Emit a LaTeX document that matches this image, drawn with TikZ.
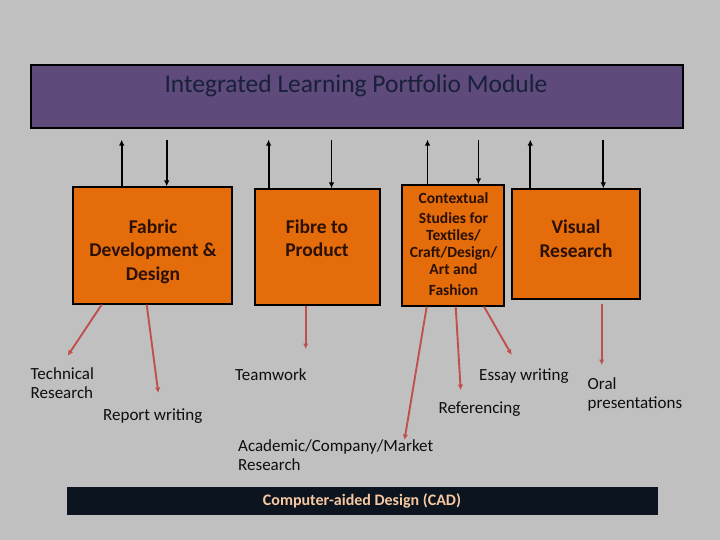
\documentclass[tikz,border=0pt]{standalone}
\usepackage{fontspec}
\setmainfont{Carlito}
\usetikzlibrary{arrows.meta,calc}
\definecolor{bg}{HTML}{C0C0C0}
\definecolor{purpc}{HTML}{5E4A7B}
\definecolor{titlec}{HTML}{18203A}
\definecolor{orng}{HTML}{E46C0A}
\definecolor{boxtxt}{HTML}{2A1006}
\definecolor{redar}{HTML}{C0504D}
\definecolor{barc}{HTML}{0C1420}
\definecolor{cadtxt}{HTML}{F7C9A0}
\definecolor{lbl}{HTML}{0E0E0E}
\begin{document}
\begin{tikzpicture}[x=1pt,y=-1pt,
  panel/.style={draw=black, line width=1.2pt, fill=orng, inner sep=0pt},
  boxtext/.style={font=\fontsize{19.5}{23.5}\selectfont\bfseries, text=boxtxt, align=center, anchor=base, inner sep=0pt},
  smalltext/.style={font=\fontsize{15.5}{16.8}\selectfont\bfseries, text=boxtxt, align=center, anchor=base, inner sep=0pt},
  lbltext/.style={font=\fontsize{17}{19}\selectfont, text=lbl, align=left, anchor=base west, inner sep=0pt},
  blk/.style={draw=black, line width=1.8pt, -{Latex[length=6pt,width=5.5pt]}},
  redarrow/.style={draw=redar, line width=1.9pt, -{Latex[length=5.5pt,width=5.5pt]}}
]
\useasboundingbox[fill=bg] (0,0) rectangle (720,540);

% top module
\node[draw=black, line width=1.2pt, fill=purpc, minimum width=652pt, minimum height=63pt, inner sep=0pt] (purp) at (357,96.5) {};
\node[font=\fontsize{25.5}{28}\selectfont, text=titlec, anchor=base, inner sep=0pt] (title) at (356,92.3) {Integrated Learning Portfolio Module};

% orange boxes
\node[panel, minimum width=159pt, minimum height=117pt] (fab) at (152.5,245.5) {};
\node[panel, minimum width=125pt, minimum height=116pt] (fib) at (317.5,247) {};
\node[panel, minimum width=102pt, minimum height=121pt] (ctx) at (453,245.5) {};
\node[panel, minimum width=128pt, minimum height=110pt] (vis) at (576,244) {};

\node[boxtext] (fabt) at (153,280) {Fabric\\Development \&\\Design};
\node[boxtext] (fibt) at (317,256.7) {Fibre to\\Product};
\node[boxtext] (vist) at (576,257.3) {Visual\\Research};
\node[smalltext] (ctxt) at (453.5,295) {Contextual\\[3.2pt]Studies for\\Textiles/\\Craft/Design/\\Art and\\[3.9pt]Fashion};

% black arrows
\coordinate (u1) at ([xshift=-30.8pt]fab.north);
\coordinate (d1) at ([xshift=14.2pt]fab.north);
\coordinate (u2) at ([xshift=-48.9pt]fib.north);
\coordinate (d2) at ([xshift=14pt]fib.north);
\coordinate (u3) at ([xshift=-25.5pt]ctx.north);
\coordinate (d3) at ([xshift=25.4pt]ctx.north);
\coordinate (u4) at ([xshift=-45.7pt]vis.north);
\coordinate (d4) at ([xshift=27.3pt]vis.north);
\foreach \c in {u1,u2,u3,u4}
  \draw[blk, shorten >=11pt] (\c) -- (\c |- purp.south);
\foreach \c in {d1,d2,d3,d4}
  \draw[blk, shorten <=11pt] (\c |- purp.south) -- (\c);

% labels
\node[lbltext] (tech) at (30.5,398) {Technical\\Research};
\node[lbltext] (rep) at (103,420) {Report writing};
\node[lbltext] (team) at (235,380) {Teamwork};
\node[lbltext] (essay) at (479,380) {Essay writing};
\node[lbltext] (refs) at (438.5,413) {Referencing};
\node[lbltext] (oral) at (587.5,408) {Oral\\presentations};
\node[lbltext] (acad) at (238,470) {Academic/Company/Market\\Research};

% red arrows
\coordinate (e1) at (67.7,355.7);
\coordinate (e2) at (158.3,393);
\coordinate (e3) at (305.7,349);
\coordinate (e4) at (404.5,440);
\coordinate (e5) at (460.7,390);
\coordinate (e6) at (511.7,355);
\coordinate (e7) at (601.7,365);
\draw[redarrow] ([xshift=-50.8pt]fab.south) -- (e1);
\draw[redarrow] ([xshift=-5.8pt]fab.south) -- (e2);
\draw[redarrow] ([xshift=-11.8pt]fib.south) -- (e3);
\draw[redarrow] ([xshift=-26.3pt]ctx.south) -- (e4);
\draw[redarrow] ([xshift=2.7pt]ctx.south) -- (e5);
\draw[redarrow] ([xshift=31pt]ctx.south) -- (e6);
\draw[redarrow, shorten <=4pt] ([xshift=25.7pt]vis.south) -- (e7);

% CAD bar
\node[fill=barc, minimum width=591pt, minimum height=28pt, inner sep=0pt] (cad) at (362.5,501) {};
\node[font=\fontsize{16}{18}\selectfont\bfseries, text=cadtxt, anchor=base, inner sep=0pt] (cadt) at (362,505.7) {Computer-aided Design (CAD)};
\end{tikzpicture}
\end{document}
